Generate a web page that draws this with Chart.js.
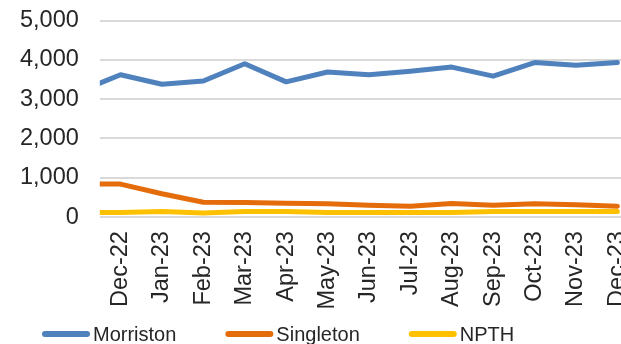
<!DOCTYPE html>
<html>
<head>
<meta charset="utf-8">
<script src="https://cdn.jsdelivr.net/npm/chart.js@4"></script>
<style>
  html, body { margin: 0; padding: 0; background: #fff; overflow: hidden; }
  canvas { display: block; }
</style>
</head>
<body>
<canvas id="c" width="660" height="344"></canvas>
<script>
// Monthly counts per site; the axis starts at Dec-22, Nov-22 only feeds the clipped lead-in segment
const months = ['Nov-22', 'Dec-22', 'Jan-23', 'Feb-23', 'Mar-23', 'Apr-23', 'May-23', 'Jun-23',
                'Jul-23', 'Aug-23', 'Sep-23', 'Oct-23', 'Nov-23', 'Dec-23'];
const morriston = [3190, 3620, 3380, 3460, 3900, 3440, 3690, 3620, 3710, 3815, 3585, 3930, 3860, 3930];
const singleton = [845, 840, 595, 380, 375, 355, 340, 305, 277, 346, 303, 338, 312, 277];
const npth      = [115, 115, 141, 107, 141, 141, 115, 115, 115, 115, 141, 141, 141, 141];
const firstShownMonth = 'Dec-22';
const yTicks = [0, 1000, 2000, 3000, 4000, 5000];

const fontFamily = "'Liberation Sans', Arial, sans-serif";
const textColor = '#262626';

// Legend drawn as long rounded line samples followed by the series name
const lineLegend = {
  id: 'lineLegend',
  afterDraw(chart, args, opts) {
    const ctx = chart.ctx;
    ctx.save();
    ctx.font = `${opts.fontSize}px ${fontFamily}`;
    ctx.textBaseline = 'middle';
    ctx.textAlign = 'left';
    let x = opts.left;
    const y = opts.y;
    chart.data.datasets.forEach(ds => {
      ctx.strokeStyle = ds.borderColor;
      ctx.lineWidth = opts.lineWidth;
      ctx.lineCap = 'round';
      ctx.beginPath();
      ctx.moveTo(x + opts.lineWidth / 2, y);
      ctx.lineTo(x + opts.sampleWidth - opts.lineWidth / 2, y);
      ctx.stroke();
      ctx.fillStyle = textColor;
      const tx = x + opts.sampleWidth + opts.textGap;
      ctx.fillText(ds.label, tx, y + 1);
      x = tx + ctx.measureText(ds.label).width + opts.itemGap;
    });
    ctx.restore();
  }
};

new Chart(document.getElementById('c'), {
  type: 'line',
  data: {
    labels: months,
    datasets: [
      { label: 'Morriston', data: morriston, borderColor: '#4F81BD', backgroundColor: '#4F81BD' },
      { label: 'Singleton', data: singleton, borderColor: '#E46C0A', backgroundColor: '#E46C0A' },
      { label: 'NPTH',      data: npth,      borderColor: '#FFC000', backgroundColor: '#FFC000' }
    ]
  },
  plugins: [lineLegend],
  options: {
    responsive: false,
    animation: false,
    layout: { padding: { top: 20.5, left: 20, right: 11, bottom: 20.5 } },
    elements: {
      line: { borderWidth: 5, tension: 0, borderCapStyle: 'round', borderJoinStyle: 'round' },
      point: { radius: 0, hoverRadius: 0 }
    },
    datasets: { line: { clip: 0 } },
    scales: {
      x: {
        type: 'category',
        min: firstShownMonth,
        offset: true,
        grid: { display: false, drawTicks: false },
        border: { display: false },
        ticks: {
          autoSkip: false,
          minRotation: 90,
          maxRotation: 90,
          padding: 14,
          color: textColor,
          font: { family: fontFamily, size: 23.5 }
        }
      },
      y: {
        min: 0,
        max: 5000,
        afterBuildTicks: (scale) => { scale.ticks = yTicks.map(v => ({ value: v })); },
        // invisible tick marks keep the labels clear of the plot without extra top padding
        grid: { color: '#D9D9D9', lineWidth: 2, drawTicks: true, tickLength: 21, tickColor: 'rgba(0,0,0,0)' },
        border: { display: false },
        ticks: {
          autoSkip: false,
          padding: 0,
          color: textColor,
          font: { family: fontFamily, size: 23.5 },
          callback: (v) => v.toLocaleString('en-US')
        }
      }
    },
    plugins: {
      tooltip: { enabled: false },
      legend: { display: false },
      lineLegend: { left: 42, y: 334, sampleWidth: 48, lineWidth: 6, textGap: 3, itemGap: 49, fontSize: 20 }
    }
  }
});
</script>
</body>
</html>
